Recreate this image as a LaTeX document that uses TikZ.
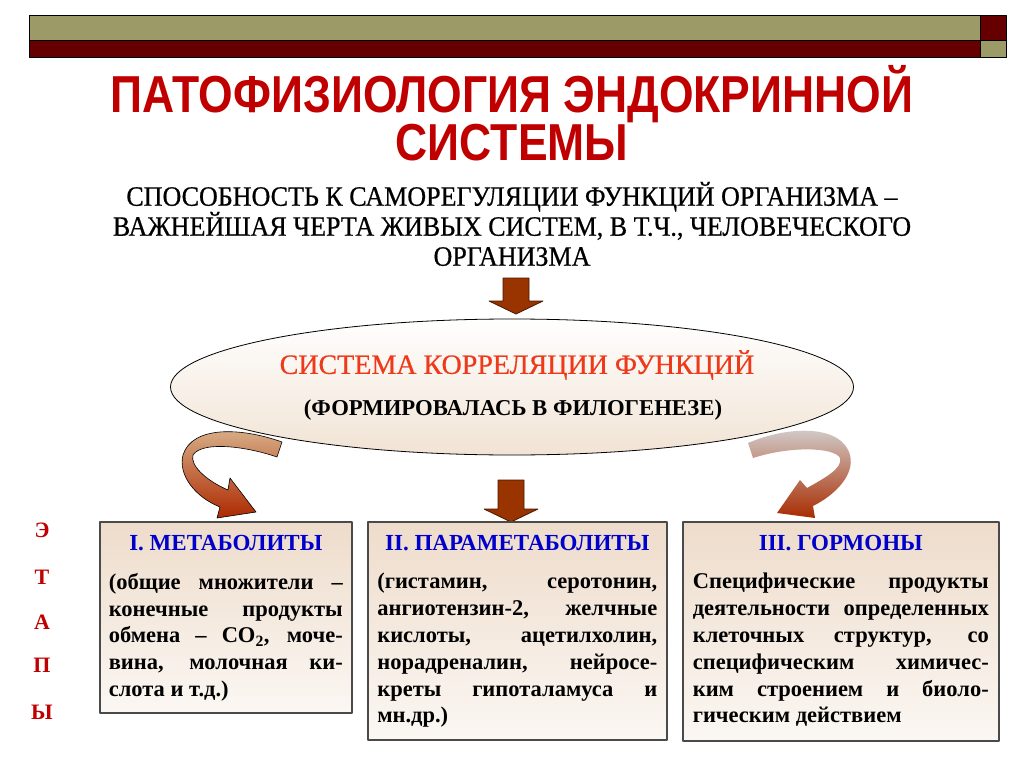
\documentclass[tikz,border=0pt]{standalone}
\usepackage{fontspec}
\setmainfont{Liberation Serif}
\newfontfamily\titlefont[FakeStretch=0.855]{Liberation Sans}
\newfontfamily\narrowserif[FakeStretch=0.93,FakeBold=0.6]{Liberation Serif}
\newfontfamily\heavyserif[FakeBold=0.6]{Liberation Serif}
\usetikzlibrary{positioning,shapes.geometric}

\definecolor{olivebar}{HTML}{9C9A66}
\definecolor{maroonbar}{HTML}{660000}
\definecolor{titlered}{HTML}{C00000}
\definecolor{arrowbrown}{HTML}{993300}
\definecolor{arrowline}{HTML}{4A1800}
\definecolor{hdrblue}{HTML}{0000CC}
\definecolor{corrred}{HTML}{EE3A1A}
\definecolor{boxtop}{HTML}{EEDCCB}
\definecolor{boxbot}{HTML}{FBF7F3}
\definecolor{boxline}{HTML}{4A4A4A}
\definecolor{ellbot}{HTML}{F1E3D4}

\newcommand\jl[1]{\makebox[\hsize][s]{#1}\\}
\newcommand\blockdown[3]{% x, top, tip
  \draw[blockarrow] (#1-13,#2) -- (#1+13,#2) -- (#1+13,#3-13) -- (#1+27,#3-13)
    -- (#1,#3) -- (#1-27,#3-13) -- (#1-13,#3-13) -- cycle;}

\tikzset{
  band/.style={draw=black, line width=0.6pt},
  blockarrow/.style={fill=arrowbrown, draw=arrowline, line width=0.8pt},
  stagebox/.style={draw=boxline, line width=1.6pt, top color=boxtop,
    bottom color=boxbot, inner sep=0pt, anchor=north west},
  hdr/.style={font=\bfseries\fontsize{23}{26}\selectfont, text=hdrblue,
    anchor=north, inner sep=0pt},
  body/.style={font=\bfseries\fontsize{22.5}{26.8}\selectfont, align=justify,
    anchor=north, inner sep=0pt},
  letter/.style={font=\bfseries\fontsize{22}{26}\selectfont, text=titlered},
}

\begin{document}
\begin{tikzpicture}[x=1pt,y=-1pt,line join=round]
\useasboundingbox[fill=white] (0,0) rectangle (1024,767);
% top bands
\draw[band, fill=olivebar] (29,15) rectangle (980,40);
\draw[band, fill=maroonbar] (29,40) rectangle (980,57);
\draw[band, fill=maroonbar] (980,15) rectangle (1006,40);
\draw[band, fill=olivebar] (980,40) rectangle (1006,57);

% title and statement
\node[font=\titlefont\bfseries\fontsize{52}{46}\selectfont, text=titlered,
  align=center] (title) at (512,113) {ПАТОФИЗИОЛОГИЯ ЭНДОКРИННОЙ\\СИСТЕМЫ};
\node[font=\narrowserif\fontsize{28}{30}\selectfont, align=center]
  (claim) at (512,224) {СПОСОБНОСТЬ К САМОРЕГУЛЯЦИИ ФУНКЦИЙ ОРГАНИЗМА –\\
  ВАЖНЕЙШАЯ ЧЕРТА ЖИВЫХ СИСТЕМ, В Т.Ч., ЧЕЛОВЕЧЕСКОГО\\ОРГАНИЗМА};
\blockdown{516}{278}{314}

% correlation system
\node[draw, ellipse, line width=0.8pt, top color=white, bottom color=ellbot,
  minimum width=683, minimum height=136] (corr) at (512,387) {};
\node[font=\heavyserif\fontsize{28}{30}\selectfont, text=corrred]
  (corrname) at (517,365) {СИСТЕМА КОРРЕЛЯЦИИ ФУНКЦИЙ};
\node[font=\bfseries\fontsize{22.7}{26}\selectfont]
  (corrnote) at (513,410) {(ФОРМИРОВАЛАСЬ В ФИЛОГЕНЕЗЕ)};

% curved arrows to the outer boxes
\shade[top color=brown!60!white, bottom color=arrowbrown!80!red, draw=black,
  line width=0.6pt] (282,442) .. controls (240,427) and (192,426) .. (183,455)
  .. controls (178,475) and (195,497) .. (220,507) -- (217,518) -- (256,512)
  -- (230,478) -- (228,490) .. controls (205,480) and (190,465) .. (193,455)
  .. controls (202,441) and (245,446) .. (277,457) -- cycle;
\shade[top color=gray!35, bottom color=arrowbrown!85!red, draw=none]
  (748,443) .. controls (790,425) and (842,425) .. (850,455)
  .. controls (855,475) and (835,495) .. (813,506) -- (815,518) -- (777,513)
  -- (800,480) -- (807,488) .. controls (825,478) and (843,468) .. (840,458)
  .. controls (834,447) and (790,446) .. (753,458) -- cycle;
\blockdown{511}{480}{522}

% stages
\node[stagebox, minimum width=252, minimum height=191] (box1) at (99,521) {};
\node[stagebox, minimum width=299, minimum height=218] (box2) at (367,521) {};
\node[stagebox, minimum width=316, minimum height=219] (box3) at (682,521) {};

\node[hdr, below=14pt of box1.north] (hdr1) {I. МЕТАБОЛИТЫ};
\node[hdr, below=14pt of box2.north] (hdr2) {II. ПАРАМЕТАБОЛИТЫ};
\node[hdr, below=14pt of box3.north] (hdr3) {III. ГОРМОНЫ};

\node[body, text width=234pt, below=52pt of box1.north] (txt1) {%
  \jl{(общие множители –}
  \jl{конечные продукты}
  \jl{обмена – CO\textsubscript{2}, моче-}
  \jl{вина, молочная ки-}
  слота и т.д.)};
\node[body, text width=280pt, below=52pt of box2.north] (txt2) {%
  \jl{(гистамин, серотонин,}
  \jl{ангиотензин-2, желчные}
  \jl{кислоты, ацетилхолин,}
  \jl{норадреналин, нейросе-}
  \jl{креты гипоталамуса и}
  мн.др.)};
\node[body, text width=296pt, below=52pt of box3.north] (txt3) {%
  \jl{Специфические продукты}
  \jl{деятельности определенных}
  \jl{клеточных структур, со}
  \jl{специфическим химичес-}
  \jl{ким строением и биоло-}
  гическим действием};

% stage letters
\foreach \ch/\yy [count=\i] in {Э/530, Т/577, А/622, П/665, Ы/712}
  \node[letter] (stage\i) at (42,\yy) {\ch};
\end{tikzpicture}
\end{document}
